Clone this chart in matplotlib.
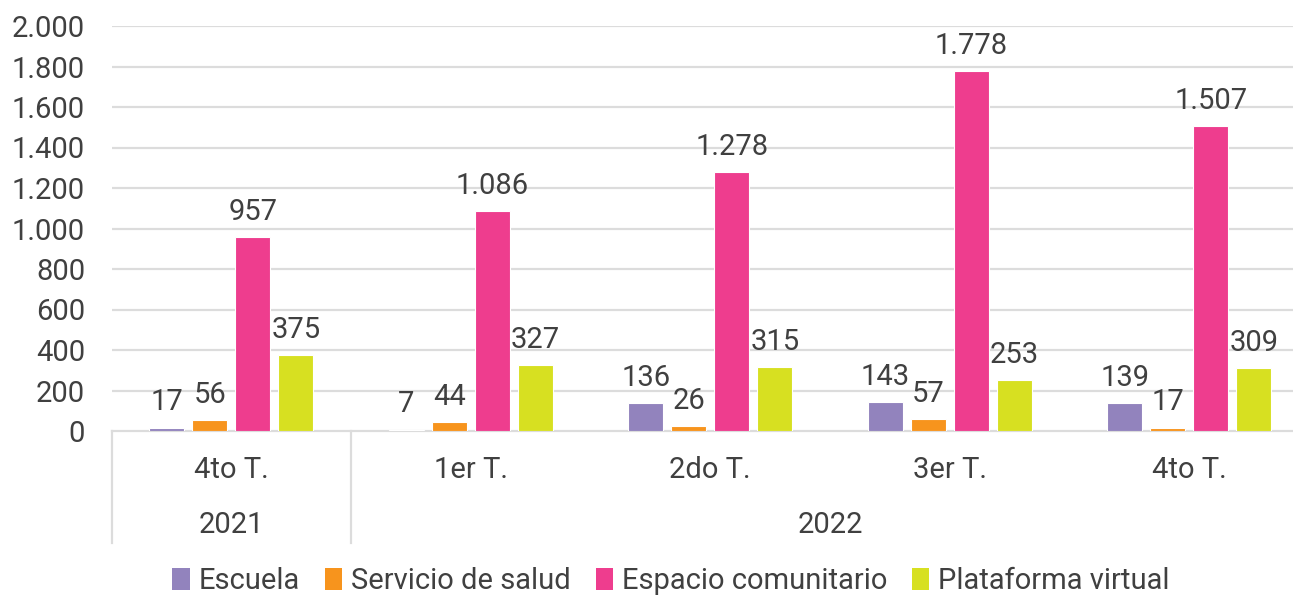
import numpy as np
import matplotlib

matplotlib.use("Agg")
import matplotlib.pyplot as plt
from matplotlib.lines import Line2D
from matplotlib.patches import Patch

plt.rcParams["font.family"] = ["Roboto", "DejaVu Sans"]

quarters = ["4to T.", "1er T.", "2do T.", "3er T.", "4to T."]
years = ["2021", "2022"]
year_span = [(0, 0), (1, 4)]
series = ["Escuela", "Servicio de salud", "Espacio comunitario", "Plataforma virtual"]
escuela = [17, 7, 136, 143, 139]
salud = [56, 44, 26, 57, 17]
comunitario = [957, 1086, 1278, 1778, 1507]
virtual = [375, 327, 315, 253, 309]
yticks = [0, 200, 400, 600, 800, 1000, 1200, 1400, 1600, 1800, 2000]

colors = ["#9283bd", "#f7941d", "#ee3d8e", "#d7e021"]
TXT = "#404040"
GRID = "#dcdcdc"
FS = 21


def fmt(v):
    return f"{v:,}".replace(",", ".")


fig = plt.figure(figsize=(12.93, 5.95), dpi=100)
ax = fig.add_axes([111.5 / 1293, 1 - 431 / 595, 1197.5 / 1293, 405 / 595])

x = np.arange(len(quarters))
pitch, width = 0.1795, 0.145
for i, (vals, c) in enumerate(zip([escuela, salud, comunitario, virtual], colors)):
    xs = x + (i - 1.5) * pitch
    ax.bar(xs, vals, width=width, color=c, edgecolor="white", linewidth=0.8, zorder=3)
    for xi, v in zip(xs, vals):
        ax.annotate(fmt(v), (xi, v), xytext=(0, 8), textcoords="offset points",
                    ha="center", va="bottom", fontsize=FS, color=TXT)

ax.set_xlim(-0.5, len(quarters) - 0.5)
ax.set_ylim(0, 2000)
ax.set_yticks(yticks)
ax.set_yticklabels([fmt(t) for t in yticks])
ax.tick_params(axis="y", length=0, pad=19, labelsize=FS, labelcolor=TXT)
ax.set_xticks([])
for t in yticks[1:]:
    ax.axhline(t, color=GRID, lw=1.6, zorder=1)
for s in ["top", "right", "left"]:
    ax.spines[s].set_visible(False)
ax.spines["bottom"].set_color(GRID)
ax.spines["bottom"].set_linewidth(1.6)

# multi-level category axis
tr = ax.get_xaxis_transform()
for xi, q in zip(x, quarters):
    ax.text(xi, -0.096, q, transform=tr, ha="center", va="center", fontsize=FS, color=TXT)
for y, (a, b) in zip(years, year_span):
    ax.text((a + b) / 2, -0.232, y, transform=tr, ha="center", va="center", fontsize=FS, color=TXT)
for xs in [-0.5, 0.5]:
    ax.add_line(Line2D([xs, xs], [0, -0.277], transform=tr, color=GRID, lw=1.6, clip_on=False))

handles = [Patch(facecolor=c, edgecolor="none") for c in colors]
fig.legend(handles, series, loc="center", bbox_to_anchor=(0.519, 0.023), ncol=4, frameon=False,
           fontsize=FS, labelcolor=TXT, handlelength=0.6, handleheight=0.75,
           handletextpad=0.3, columnspacing=0.85, borderpad=0)

fig.savefig("out.png", dpi=100)
